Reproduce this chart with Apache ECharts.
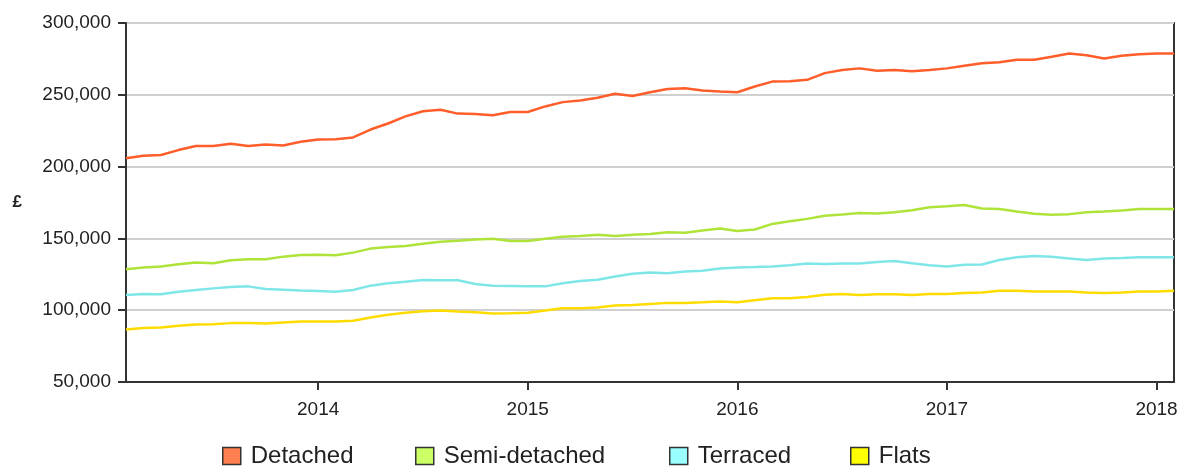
<!DOCTYPE html>
<html>
<head>
<meta charset="utf-8">
<script src="https://cdn.jsdelivr.net/npm/echarts@6/dist/echarts.min.js"></script>
<style>
  html, body { margin: 0; padding: 0; background: #fff; }
  #chart { width: 1182px; height: 468px; }
</style>
</head>
<body>
<div id="chart"></div>
<script>
// monthly average prices, Feb 2013 - Feb 2018
const months = [
  '2013-02', '2013-03', '2013-04', '2013-05', '2013-06', '2013-07', '2013-08', '2013-09', '2013-10', '2013-11', '2013-12',
  '2014-01', '2014-02', '2014-03', '2014-04', '2014-05', '2014-06', '2014-07', '2014-08', '2014-09', '2014-10', '2014-11', '2014-12',
  '2015-01', '2015-02', '2015-03', '2015-04', '2015-05', '2015-06', '2015-07', '2015-08', '2015-09', '2015-10', '2015-11', '2015-12',
  '2016-01', '2016-02', '2016-03', '2016-04', '2016-05', '2016-06', '2016-07', '2016-08', '2016-09', '2016-10', '2016-11', '2016-12',
  '2017-01', '2017-02', '2017-03', '2017-04', '2017-05', '2017-06', '2017-07', '2017-08', '2017-09', '2017-10', '2017-11', '2017-12',
  '2018-01', '2018-02'
];

const detached = [
  205800, 207600, 208100, 211500, 214300, 214300, 215900, 214300, 215400, 214700, 217300,
  218900, 219100, 220300, 225800, 230000, 235000, 238500, 239600, 236900, 236600, 235700,
  238000, 238000, 241900, 244900, 246100, 247900, 250700, 249100, 251800, 254100, 254600,
  253000, 252300, 251800, 255800, 259200, 259400, 260400, 265100, 267300, 268400, 266800,
  267300, 266400, 267300, 268400, 270300, 271900, 272600, 274400, 274400, 276500, 278800,
  277600, 275300, 277200, 278300, 278800, 278800
];

const semiDetached = [
  128600, 129700, 130400, 132000, 133200, 132700, 134800, 135500, 135500, 137300, 138500,
  138700, 138300, 140100, 142900, 144000, 144700, 146300, 147700, 148400, 149300, 149800,
  148200, 148200, 149800, 151200, 151600, 152500, 151600, 152500, 153000, 154200, 154000,
  155500, 156900, 155100, 156200, 160100, 162000, 163600, 165700, 166600, 167700, 167300,
  168200, 169600, 171700, 172400, 173300, 170800, 170500, 168700, 167100, 166400, 166900,
  168200, 168700, 169400, 170500, 170500, 170500
];

const terraced = [
  110600, 111300, 111100, 112900, 114100, 115200, 116200, 116600, 114800, 114300, 113800,
  113400, 112900, 114100, 117100, 118700, 119800, 121000, 120800, 120800, 118200, 117100,
  116900, 116600, 116600, 118700, 120300, 121200, 123500, 125400, 126300, 125800, 127000,
  127400, 129000, 129700, 130000, 130400, 131300, 132500, 132200, 132500, 132500, 133600,
  134300, 132700, 131300, 130400, 131600, 131800, 135000, 136900, 137800, 137300, 136000,
  135000, 136000, 136400, 136900, 136900, 136900
];

const flats = [
  86600, 87600, 88000, 89200, 90100, 90300, 91000, 91000, 90800, 91500, 92200,
  92200, 92200, 92600, 94900, 96800, 98200, 99300, 99800, 99100, 98600, 97700,
  97900, 98200, 99800, 101400, 101400, 101800, 103200, 103700, 104400, 105100, 105100,
  105500, 106000, 105500, 106900, 108300, 108300, 109200, 110700, 111300, 110600, 111100,
  111100, 110600, 111300, 111300, 112000, 112400, 113600, 113600, 113100, 113100, 113100,
  112400, 112000, 112400, 113100, 113100, 113600
];

const seriesNames = ['Detached', 'Semi-detached', 'Terraced', 'Flats'];
const lineColors = ['#ff5e2a', '#aee33a', '#7fe6e8', '#ffdc00'];
const legendColors = ['#ff7f50', '#ccff66', '#99ffff', '#ffff00'];
const legendLeft = [222, 415, 669, 850];

const chart = echarts.init(document.getElementById('chart'));

const isJanuary = (idx, val) => val.slice(5) === '01';

// one legend per entry so each can sit where the original has it
const legends = seriesNames.map((name, i) => ({
  left: legendLeft[i],
  top: 444,
  padding: 0,
  itemWidth: 18,
  itemHeight: 17,
  icon: 'rect',
  selectedMode: false,
  data: [{
    name: name,
    itemStyle: { color: legendColors[i], borderColor: '#333', borderWidth: 1.5 }
  }],
  textStyle: {
    fontFamily: "'Liberation Sans', Arial, sans-serif",
    fontSize: 24,
    color: '#222',
    padding: [0, 0, 0, 5]
  }
}));

const allValues = [detached, semiDetached, terraced, flats];

chart.setOption({
  animation: false,
  grid: {
    left: 126,
    right: 8,
    top: 23,
    bottom: 86,
    show: true,
    borderColor: '#333',
    borderWidth: 2
  },
  legend: legends,
  xAxis: {
    type: 'category',
    data: months,
    boundaryGap: false,
    axisLine: { lineStyle: { color: '#333', width: 2 } },
    axisTick: { interval: isJanuary, length: 8, lineStyle: { color: '#333', width: 2 } },
    axisLabel: {
      interval: isJanuary,
      formatter: v => v.slice(0, 4),
      margin: 18,
      fontFamily: "'Liberation Sans', Arial, sans-serif",
      fontSize: 19,
      color: '#222'
    },
    splitLine: { show: false }
  },
  yAxis: {
    type: 'value',
    min: 50000,
    max: 300000,
    interval: 50000,
    name: '£',
    nameLocation: 'middle',
    nameRotate: 0,
    nameGap: 104,
    nameTextStyle: { fontFamily: "'Liberation Sans', Arial, sans-serif", fontSize: 17, fontWeight: 'bold', color: '#222' },
    axisLine: { show: true, lineStyle: { color: '#333', width: 2 } },
    axisTick: { show: true, length: 8, lineStyle: { color: '#333', width: 2 } },
    axisLabel: {
      margin: 15,
      fontFamily: "'Liberation Sans', Arial, sans-serif",
      fontSize: 19,
      color: '#222',
      formatter: v => v.toLocaleString('en-US')
    },
    splitLine: { lineStyle: { color: '#d0d0d0', width: 2 } }
  },
  series: seriesNames.map((name, i) => ({
    name: name,
    type: 'line',
    data: allValues[i],
    showSymbol: false,
    lineStyle: { color: lineColors[i], width: 2.5 },
    itemStyle: { color: lineColors[i] }
  }))
});

window.addEventListener('resize', () => chart.resize());
</script>
</body>
</html>
